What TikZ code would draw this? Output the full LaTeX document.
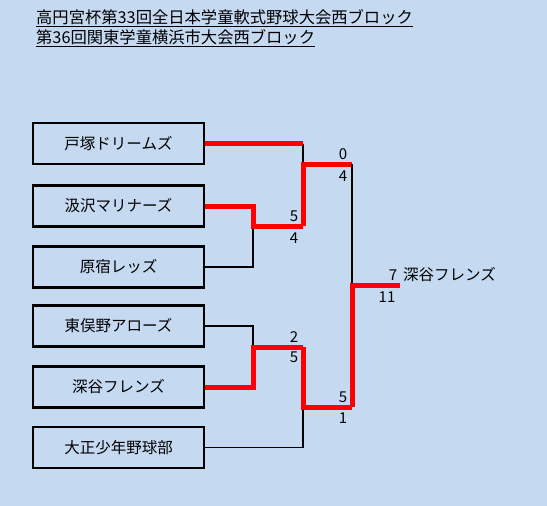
\documentclass[tikz,border=0pt]{standalone}
\usepackage{fontspec}
\setmainfont{Noto Sans CJK JP}
\usetikzlibrary{positioning}
\definecolor{bgblue}{RGB}{197,217,241}
\definecolor{winred}{RGB}{255,0,0}

\begin{document}
\begin{tikzpicture}[x=1pt,y=-1pt,
  team/.style={draw, line width=2.4pt, minimum width=171pt, minimum height=41pt, font=\fontsize{15.5}{18}\selectfont},
  score/.style={font=\fontsize{15}{17}\selectfont, inner sep=0pt},
  win/.style={draw=winred, line width=5pt},
  lose/.style={draw=black, line width=1.6pt}]

% background and margins
\fill[bgblue] (0,0) rectangle (547,506);
\useasboundingbox (0,0) rectangle (547,506);

% title
\node[anchor=west, font=\fontsize{16.3}{19}\selectfont, inner sep=0pt] (title1) at (36,18) {\underline{高円宮杯第33回全日本学童軟式野球大会西ブロック}};
\node[anchor=west, font=\fontsize{16.3}{19}\selectfont, inner sep=0pt] (title2) at (36,38) {\underline{第36回関東学童横浜市大会西ブロック}};

% teams
\node[team] (t1) at (118.5,143.5) {戸塚ドリームズ};
\node[team] (t2) at (118.5,206) {汲沢マリナーズ};
\node[team] (t3) at (118.5,267) {原宿レッズ};
\node[team] (t4) at (118.5,326) {東俣野アローズ};
\node[team] (t5) at (118.5,387) {深谷フレンズ};
\node[team] (t6) at (118.5,447.5) {大正少年野球部};

% junction points
\coordinate (a1) at (253,226);
\coordinate (a2) at (253,347);
\coordinate (s1) at (303,164);
\coordinate (s2) at (303,407);
\coordinate (f1) at (352,285);
\coordinate (champ) at (400,285);

% first round
\draw[lose] (t3.east) -| (a1);
\draw[lose] (t4.east) -| (a2);
\draw[win] (t2.east) -| (a1) -- (303,226);
\draw[win] (t5.east) -| (a2) -- (303,347);

% semi-finals
\draw[lose] (303,143.5) -- (s1);
\draw[lose] (t6.east) -| (s2);
\draw[win] (t1.east) -- (303,143.5);
\draw[win] (303,226) -- (s1) -- (352,164);
\draw[win] (303,347) -- (s2) -- (352,407);

% final
\draw[lose] (352,164) -- (f1);
\draw[win] (352,407) -- (f1) -- (champ);

% scores
\node[score] (sc1) at (294,216) {5};
\node[score] (sc2) at (294,238) {4};
\node[score] (sc3) at (294,337) {2};
\node[score] (sc4) at (294,357) {5};
\node[score] (sc5) at (343,154) {0};
\node[score] (sc6) at (343,176) {4};
\node[score] (sc7) at (343,397) {5};
\node[score] (sc8) at (343,418) {1};
\node[score] (sc9) at (393,275) {7};
\node[score] (sc10) at (387,297) {11};
\node[anchor=west, font=\fontsize{15.5}{18}\selectfont, inner sep=0pt] (winner) at (403,275) {深谷フレンズ};

\end{tikzpicture}
\end{document}
